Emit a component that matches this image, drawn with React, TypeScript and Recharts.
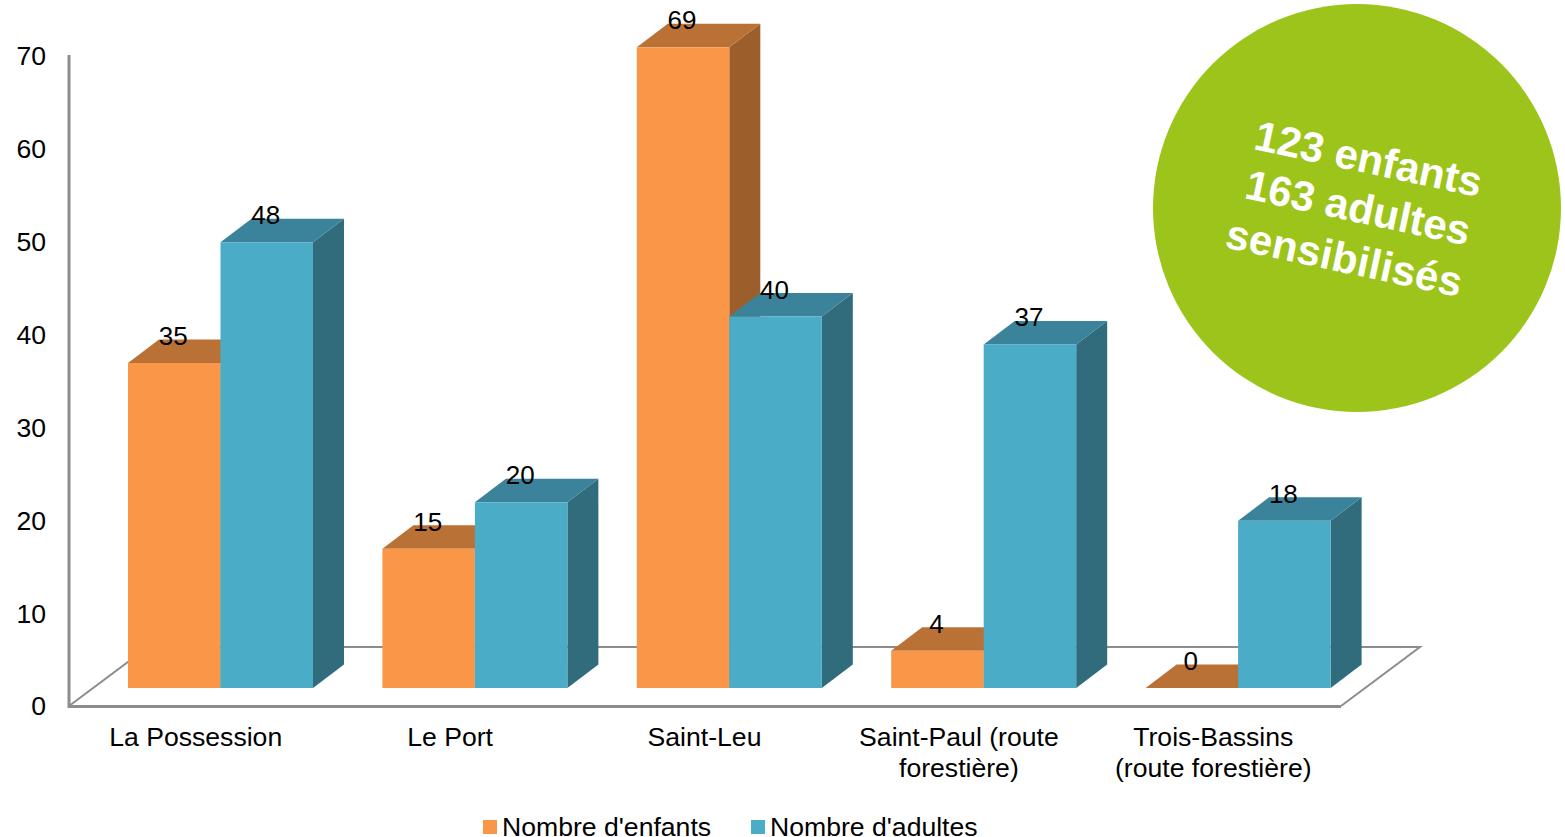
import React from 'react'
import { BarChart, Bar, XAxis, YAxis, Legend, LabelList, Customized } from 'recharts'

const communes = [
  'La Possession',
  'Le Port',
  'Saint-Leu',
  'Saint-Paul (route\nforestière)',
  'Trois-Bassins\n(route forestière)',
]
const enfants = [35, 15, 69, 4, 0]
const adultes = [48, 20, 40, 37, 18]
const yTicks = [0, 10, 20, 30, 40, 50, 60, 70]
const badgeLines = ['123 enfants', '163 adultes', 'sensibilisés']

const data = communes.map((name, i) => ({ name, enfants: enfants[i], adultes: adultes[i] }))

const FONT = '"Liberation Sans", Arial, sans-serif'
const GREY = '#8c8c8c'

// plot box of the chart, the fake 3D floor hangs off it
const W = 1565
const H = 837
const LEFT = 69
const RIGHT = 1341
const TOP = 55
const BOTTOM = 705

// bars sit on the floor, so they are pushed in from the axes
const SHIFT_X = 24
const SHIFT_Y = 17
const DEPTH_X = 31
const DEPTH_Y = 23.5
const FLOOR_X = 79
const FLOOR_Y = 58

const ORANGE = { front: '#f99648', top: '#ba7136', side: '#9c5f2b' }
const BLUE = { front: '#4aacc7', top: '#3a839a', side: '#306c7c' }

function box(colors: typeof ORANGE) {
  return function Box3D(props: any) {
    const x = props.x + SHIFT_X
    const y = props.y - SHIFT_Y
    const { width: w, height: h } = props
    return (
      <g>
        <path
          d={`M${x + w},${y} l${DEPTH_X},${-DEPTH_Y} v${h} l${-DEPTH_X},${DEPTH_Y} Z`}
          fill={colors.side}
        />
        <path
          d={`M${x},${y} l${DEPTH_X},${-DEPTH_Y} h${w} l${-DEPTH_X},${DEPTH_Y} Z`}
          fill={colors.top}
        />
        <rect x={x} y={y} width={w} height={h} fill={colors.front} />
      </g>
    )
  }
}

function ValueLabel(props: any) {
  const { x, y, width, value } = props
  return (
    <text
      x={x + SHIFT_X + width / 2 - 1}
      y={y - SHIFT_Y - 18}
      textAnchor="middle"
      fontSize={26}
      fontFamily={FONT}
      fill="#000"
    >
      {value}
    </text>
  )
}

function CategoryTick(props: any) {
  const { x, payload } = props
  return (
    <text textAnchor="middle" fontSize={26.6} fontFamily={FONT} fill="#000">
      {String(payload.value)
        .split('\n')
        .map((line, i) => (
          <tspan key={i} x={x - 0.5} y={BOTTOM + 41 + i * 31}>
            {line}
          </tspan>
        ))}
    </text>
  )
}

function Floor() {
  return (
    <g fill="none" stroke={GREY}>
      <path
        d={`M${LEFT},${BOTTOM + 1} l${FLOOR_X},${-FLOOR_Y - 1} H${RIGHT + FLOOR_X} L${RIGHT},${BOTTOM + 1}`}
        strokeWidth={2}
      />
      <path d={`M${LEFT},${TOP} V${BOTTOM + 3}`} strokeWidth={3} />
      <path d={`M${LEFT},${BOTTOM + 1.5} H${RIGHT}`} strokeWidth={3} />
    </g>
  )
}

function Badge() {
  return (
    <g>
      <circle cx={1357} cy={208} r={204} fill="#9dc41a" />
      <g transform="rotate(12 1357 208)" fontFamily={FONT} fontWeight="bold" fontSize={42} fill="#fff" textAnchor="middle">
        {badgeLines.map((line, i) => (
          <text key={line} x={i === 2 ? 1355 : 1358} y={172 + i * 50 + (i === 2 ? 2 : 0)} letterSpacing={i === 2 ? 0.2 : 0}>
            {line}
          </text>
        ))}
      </g>
    </g>
  )
}

function LegendRow() {
  const items = [
    { label: "Nombre d'enfants", color: ORANGE.front, width: 268 },
    { label: "Nombre d'adultes", color: BLUE.front, width: 240 },
  ]
  return (
    <div style={{ display: 'flex', fontFamily: FONT, fontSize: 26.6, lineHeight: '22px', color: '#000' }}>
      {items.map(it => (
        <div key={it.label} style={{ display: 'flex', alignItems: 'center', width: it.width, whiteSpace: 'nowrap' }}>
          <span style={{ width: 14, height: 14, background: it.color, marginRight: 5 }} />
          {it.label}
        </div>
      ))}
    </div>
  )
}

export default function App() {
  return (
    <div style={{ width: W, height: H, position: 'relative' }}>
      <style>{'body{margin:0}'}</style>
      <BarChart
        width={W}
        height={H}
        data={data}
        barSize={92.5}
        barGap={0}
        margin={{ top: TOP, right: W - RIGHT, bottom: 0, left: 9 }}
      >
        <Customized component={<Floor />} />
        <XAxis
          dataKey="name"
          interval={0}
          height={H - BOTTOM}
          axisLine={false}
          tickLine={false}
          tick={<CategoryTick />}
        />
        <YAxis
          width={60}
          domain={[0, 70]}
          ticks={yTicks}
          axisLine={false}
          tickLine={false}
          tickSize={0}
          tickMargin={23}
          dy={1}
          tick={{ fontSize: 26.6, fontFamily: FONT, fill: '#000' }}
        />
        <Bar dataKey="enfants" name="Nombre d'enfants" fill={ORANGE.front} shape={box(ORANGE)} isAnimationActive={false}>
          <LabelList dataKey="enfants" content={<ValueLabel />} />
        </Bar>
        <Bar dataKey="adultes" name="Nombre d'adultes" fill={BLUE.front} shape={box(BLUE)} isAnimationActive={false}>
          <LabelList dataKey="adultes" content={<ValueLabel />} />
        </Bar>
        <Customized component={<Badge />} />
        <Legend
          layout="horizontal"
          align="center"
          verticalAlign="middle"
          content={<LegendRow />}
          wrapperStyle={{ left: 483, top: 816, width: 520 }}
        />
      </BarChart>
    </div>
  )
}
